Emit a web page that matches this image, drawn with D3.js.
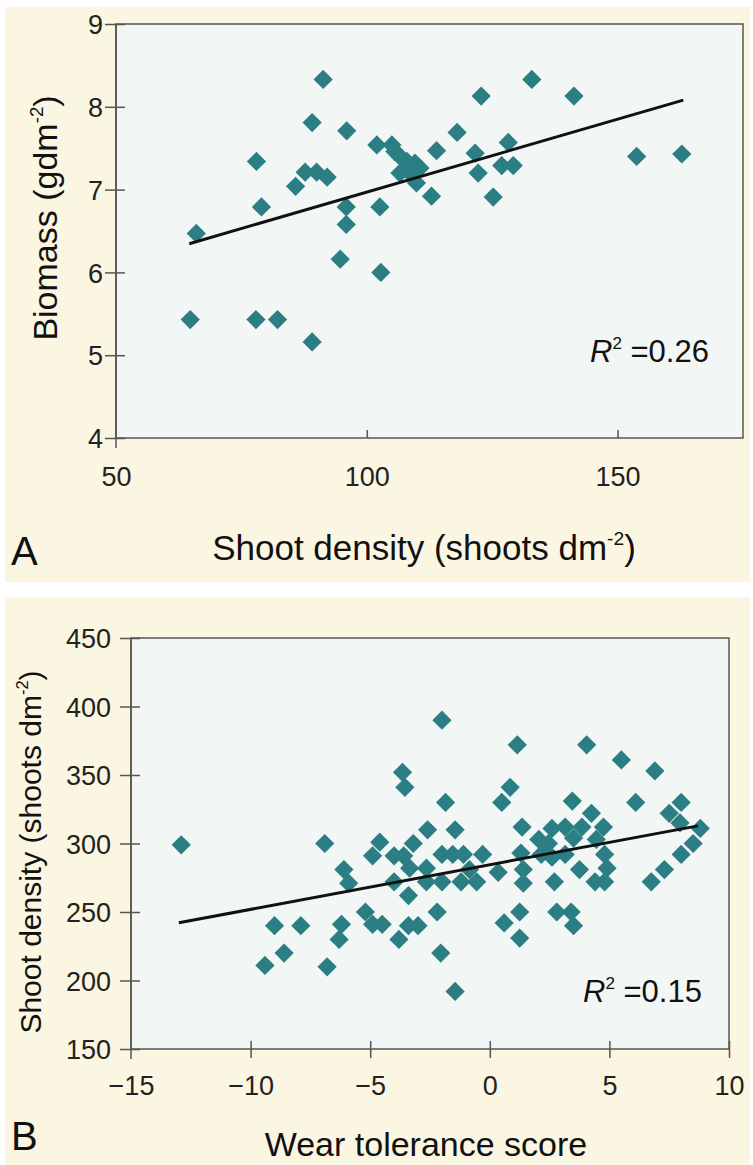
<!DOCTYPE html>
<html>
<head>
<meta charset="utf-8">
<script src="https://cdn.jsdelivr.net/npm/d3@7"></script>
<style>
  html, body { margin: 0; padding: 0; background: #ffffff; }
  svg { display: block; font-family: "Liberation Sans", Arial, Helvetica, sans-serif; }
</style>
</head>
<body>
<svg id="chart" width="753" height="1165"></svg>
<script>
// Panel A: shoot density (shoots dm^-2) vs biomass (g dm^-2)
const densityA = [66.0, 64.8, 78.0, 79.0, 77.9, 82.2, 89.1, 85.8, 87.7, 90.0,
  92.1, 89.1, 91.3, 96.0, 95.9, 95.9, 94.7, 102.8, 102.6,
  102.0, 105.0, 105.6, 106.6, 108.0, 109.6, 110.6, 106.6, 108.6, 109.9,
  112.9, 113.9, 118.0, 121.6, 122.2, 128.2, 126.9, 129.2, 125.2,
  122.8, 132.9, 141.3, 153.8, 162.8];
const biomassA = [6.47, 5.43, 7.34, 6.79, 5.43, 5.43, 5.16, 7.04, 7.21, 7.21,
  7.15, 7.81, 8.33, 7.71, 6.79, 6.58, 6.16, 6.00, 6.79,
  7.54, 7.54, 7.46, 7.40, 7.34, 7.32, 7.26, 7.20, 7.20, 7.08,
  6.92, 7.47, 7.69, 7.44, 7.20, 7.57, 7.29, 7.29, 6.91,
  8.13, 8.33, 8.13, 7.40, 7.43];
const trendA = { intercept: 5.209, slope: 0.01761, from: 64.6, to: 163.1 };
const r2A = "0.26";
const xTicksA = [50, 100, 150];
const yTicksA = [4, 5, 6, 7, 8, 9];

// Panel B: wear tolerance score vs shoot density (shoots dm^-2)
const wearB = [-12.9, -9.4, -9.0, -8.6, -7.9, -6.9, -6.8, -6.3, -6.2, -6.1,
  -5.9, -5.2, -4.9, -4.5, -4.9, -4.6, -4.0, -3.6, -4.0, -3.8,
  -3.65, -3.55, -3.4, -3.4, -3.0, -3.35, -3.2, -2.65, -2.65, -2.6,
  -2.2, -2.05, -2.0, -2.0, -2.0, -1.85, -1.45, -1.55, -1.1, -1.45,
  -1.2, -0.85, -0.55, -0.3, 0.35, 0.5, 0.85, 0.6, 1.15, 1.25,
  1.25, 1.3, 1.35, 1.4, 1.4, 2.05, 2.45, 2.15, 2.6, 2.6,
  2.7, 2.8, 3.15, 3.15, 3.4, 3.5, 3.45, 3.5, 3.75, 3.85,
  4.05, 4.25, 4.45, 4.4, 4.8, 4.75, 4.8, 4.9, 5.5, 6.1,
  6.75, 6.9, 7.3, 7.5, 8.0, 7.95, 8.0, 8.5, 8.8];
const densityB = [299, 211, 240, 220, 240, 300, 210, 230, 241, 281,
  271, 250, 241, 241, 291, 301, 291, 291, 272, 230,
  352, 341, 262, 240, 240, 282, 300, 282, 272, 310,
  250, 220, 390, 292, 272, 330, 310, 292, 292, 192,
  272, 281, 272, 292, 279, 330, 341, 242, 372, 250,
  231, 293, 312, 281, 271, 303, 300, 292, 290, 311,
  272, 250, 312, 292, 250, 240, 331, 304, 281, 312,
  372, 322, 303, 272, 272, 312, 292, 282, 361, 330,
  272, 353, 281, 322, 330, 315, 292, 300, 311];
const trendB = { intercept: 284.5, slope: 3.26, from: -13.0, to: 8.7 };
const r2B = "0.15";
const xTicksB = [-15, -10, -5, 0, 5, 10];
const yTicksB = [150, 200, 250, 300, 350, 400, 450];

const svg = d3.select("#chart");
const CREAM = "#fbf6e1";
const PLOT_BG = "#f2f6f5";
const AXIS = "#555555";
const TEAL = "#2b7f84";
const TICK_FONT = 27;

function panel(cfg) {
  const g = svg.append("g");
  g.append("rect")
    .attr("x", cfg.bg[0]).attr("y", cfg.bg[1])
    .attr("width", cfg.bg[2]).attr("height", cfg.bg[3])
    .attr("fill", CREAM);

  const x = d3.scaleLinear().domain(cfg.xDomain).range(cfg.xRange);
  const y = d3.scaleLinear().domain(cfg.yDomain).range(cfg.yRange);

  // plotting area with frame
  g.append("rect")
    .attr("x", cfg.xRange[0]).attr("y", cfg.yRange[1])
    .attr("width", cfg.xRange[1] - cfg.xRange[0])
    .attr("height", cfg.yRange[0] - cfg.yRange[1])
    .attr("fill", PLOT_BG)
    .attr("stroke", AXIS).attr("stroke-width", 1.5);

  // left axis line continues a little below the bottom axis
  g.append("line")
    .attr("x1", cfg.xRange[0]).attr("x2", cfg.xRange[0])
    .attr("y1", cfg.yRange[1]).attr("y2", cfg.yRange[0] + 10)
    .attr("stroke", AXIS).attr("stroke-width", 1.5);

  // y axis
  const ya = g.append("g")
    .attr("transform", `translate(${cfg.xRange[0]},0)`)
    .call(d3.axisLeft(y).tickValues(cfg.yTicks).tickSize(11).tickPadding(0).tickFormat(d3.format("d")));
  ya.select(".domain").remove();
  ya.selectAll(".tick line").attr("x1", 9).attr("x2", -11)
    .attr("stroke", AXIS).attr("stroke-width", 1.5);
  ya.selectAll(".tick text")
    .attr("x", cfg.yLabelX - cfg.xRange[0])
    .attr("dy", "0.36em")
    .attr("font-size", TICK_FONT).attr("fill", "#222")
    .attr("font-family", "Liberation Sans, Arial, sans-serif");

  // x axis
  const xa = g.append("g")
    .attr("transform", `translate(0,${cfg.yRange[0]})`)
    .call(d3.axisBottom(x).tickValues(cfg.xTicks).tickSize(8).tickFormat(d3.format("d")));
  xa.select(".domain").remove();
  xa.selectAll(".tick line")
    .attr("y1", -8).attr("y2", cfg.xTickDown)
    .attr("stroke", AXIS).attr("stroke-width", 1.5)
    .filter(d => d === cfg.xDomain[0]).remove();
  xa.selectAll(".tick text")
    .attr("y", cfg.xLabelY)
    .attr("dy", 0)
    .attr("font-size", TICK_FONT).attr("fill", "#222")
    .attr("font-family", "Liberation Sans, Arial, sans-serif");

  // points
  const pts = cfg.xs.map((v, i) => [v, cfg.ys[i]]);
  const sym = d3.symbol().type(d3.symbolSquare).size(185);
  g.append("g").selectAll("path")
    .data(pts).join("path")
    .attr("d", sym)
    .attr("transform", d => `translate(${x(d[0])},${y(d[1])}) rotate(45)`)
    .attr("fill", TEAL);

  // fitted line
  const t = cfg.trend;
  const line = d3.line().x(d => x(d)).y(d => y(t.intercept + t.slope * d));
  g.append("path")
    .attr("d", line([t.from, t.to]))
    .attr("fill", "none").attr("stroke", "#111").attr("stroke-width", 3);

  // R squared
  const r = g.append("text")
    .attr("x", cfg.r2Pos[0]).attr("y", cfg.r2Pos[1])
    .attr("font-size", 31).attr("fill", "#111");
  r.append("tspan").attr("font-style", "italic").text("R");
  r.append("tspan").attr("font-size", 17).attr("dy", -13).text("2");
  r.append("tspan").attr("dy", 13).text("\u00a0=" + cfg.r2);

  // axis titles
  const xt = g.append("text")
    .attr("x", cfg.xTitle.x).attr("y", cfg.xTitle.y)
    .attr("text-anchor", "middle")
    .attr("font-size", cfg.xTitle.size).attr("fill", "#111");
  xt.append("tspan").text(cfg.xTitle.text);
  if (cfg.xTitle.sup) {
    xt.append("tspan").attr("font-size", cfg.xTitle.size * 0.55).attr("dy", -cfg.xTitle.size * 0.42).text(cfg.xTitle.sup);
    xt.append("tspan").attr("dy", cfg.xTitle.size * 0.42).text(")");
  }

  const yt = g.append("text")
    .attr("transform", `translate(${cfg.yTitle.x},${cfg.yTitle.y}) rotate(-90)`)
    .attr("text-anchor", "middle")
    .attr("font-size", cfg.yTitle.size).attr("fill", "#111");
  yt.append("tspan").text(cfg.yTitle.text);
  yt.append("tspan").attr("font-size", cfg.yTitle.size * 0.55).attr("dy", -cfg.yTitle.size * 0.42).text(cfg.yTitle.sup);
  yt.append("tspan").attr("dy", cfg.yTitle.size * 0.42).text(")");

  // panel letter
  g.append("text")
    .attr("x", cfg.letter.x).attr("y", cfg.letter.y)
    .attr("font-size", 40).attr("fill", "#111")
    .text(cfg.letter.text);
}

panel({
  bg: [5, 7, 745, 575],
  xDomain: [50, 175], xRange: [116, 743],
  yDomain: [4, 9], yRange: [438, 24],
  xTicks: xTicksA, yTicks: yTicksA,
  xTickDown: 0, yLabelX: 103, xLabelY: 48,
  xs: densityA, ys: biomassA, trend: trendA,
  r2: r2A, r2Pos: [590, 362],
  xTitle: { text: "Shoot density (shoots dm", sup: "-2", x: 424, y: 560, size: 35 },
  yTitle: { text: "Biomass (gdm", sup: "-2", x: 57, y: 218, size: 34 },
  letter: { text: "A", x: 11, y: 565 }
});

panel({
  bg: [5, 597, 745, 568],
  xDomain: [-15, 10], xRange: [131, 729],
  yDomain: [150, 450], yRange: [1049, 638],
  xTicks: xTicksB, yTicks: yTicksB,
  xTickDown: 9, yLabelX: 111, xLabelY: 46,
  xs: wearB, ys: densityB, trend: trendB,
  r2: r2B, r2Pos: [583, 1002],
  xTitle: { text: "Wear tolerance score", sup: null, x: 426, y: 1156, size: 34 },
  yTitle: { text: "Shoot density (shoots dm", sup: "-2", x: 41, y: 852, size: 30 },
  letter: { text: "B", x: 11, y: 1150 }
});
</script>
</body>
</html>
